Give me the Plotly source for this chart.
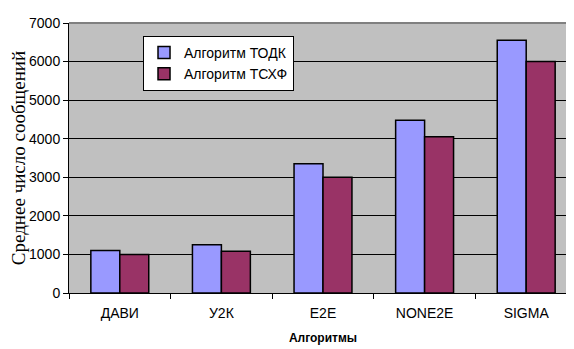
import plotly.graph_objects as go

categories = ["ДАВИ", "У2К", "E2E", "NONE2E", "SIGMA"]
series_todk = [1100, 1250, 3350, 4480, 6550]
series_tcxf = [1000, 1080, 3000, 4050, 6000]
series_names = ["Алгоритм ТОДК", "Алгоритм ТСХФ"]
y_ticks = [0, 1000, 2000, 3000, 4000, 5000, 6000, 7000]

fig = go.Figure()
fig.add_trace(go.Bar(x=categories, y=series_todk, name=series_names[0],
                     marker=dict(color="#9999FF", line=dict(color="black", width=1.5))))
fig.add_trace(go.Bar(x=categories, y=series_tcxf, name=series_names[1],
                     marker=dict(color="#993366", line=dict(color="black", width=1.5))))

# page body has an 8px default margin; figure sized/offset to compensate
fig.update_layout(
    width=569, height=341,
    margin=dict(l=61, r=0, t=15, b=56),
    paper_bgcolor="white",
    plot_bgcolor="#C0C0C0",
    barmode="group",
    bargap=0.43,
    bargroupgap=0,
    font=dict(family="Liberation Sans, Arial", size=14, color="black"),
    showlegend=True,
    legend=dict(x=0.1457, y=0.952, xanchor="left", yanchor="top",
                bgcolor="white", bordercolor="black", borderwidth=1,
                itemwidth=30, tracegroupgap=0,
                font=dict(size=14, family="Liberation Sans, Arial")),
    xaxis=dict(
        type="category",
        automargin=False,
        showline=True, linecolor="black", linewidth=1,
        ticks="outside", ticklen=5, tickcolor="black", tickson="boundaries",
        showgrid=False,
        ticklabelstandoff=7,
        tickfont=dict(size=14),
        title=dict(text="<b>Алгоритмы</b>", font=dict(size=12, family="Liberation Sans, Arial"), standoff=13),
    ),
    yaxis=dict(
        range=[0, 7000],
        automargin=False,
        tickvals=y_ticks,
        showline=True, linecolor="black", linewidth=1,
        ticks="outside", ticklen=5, tickcolor="black",
        showgrid=True, gridcolor="black", gridwidth=1,
        zeroline=False,
        tickfont=dict(size=14),
        title=dict(text="Среднее число сообщений",
                   font=dict(size=19, family="Liberation Serif, Times New Roman"), standoff=6),
    ),
)

fig.add_shape(type="line", xref="paper", yref="paper", x0=0, x1=1, y0=1, y1=1,
              line=dict(color="#808080", width=2))

fig.write_html("out.html")
